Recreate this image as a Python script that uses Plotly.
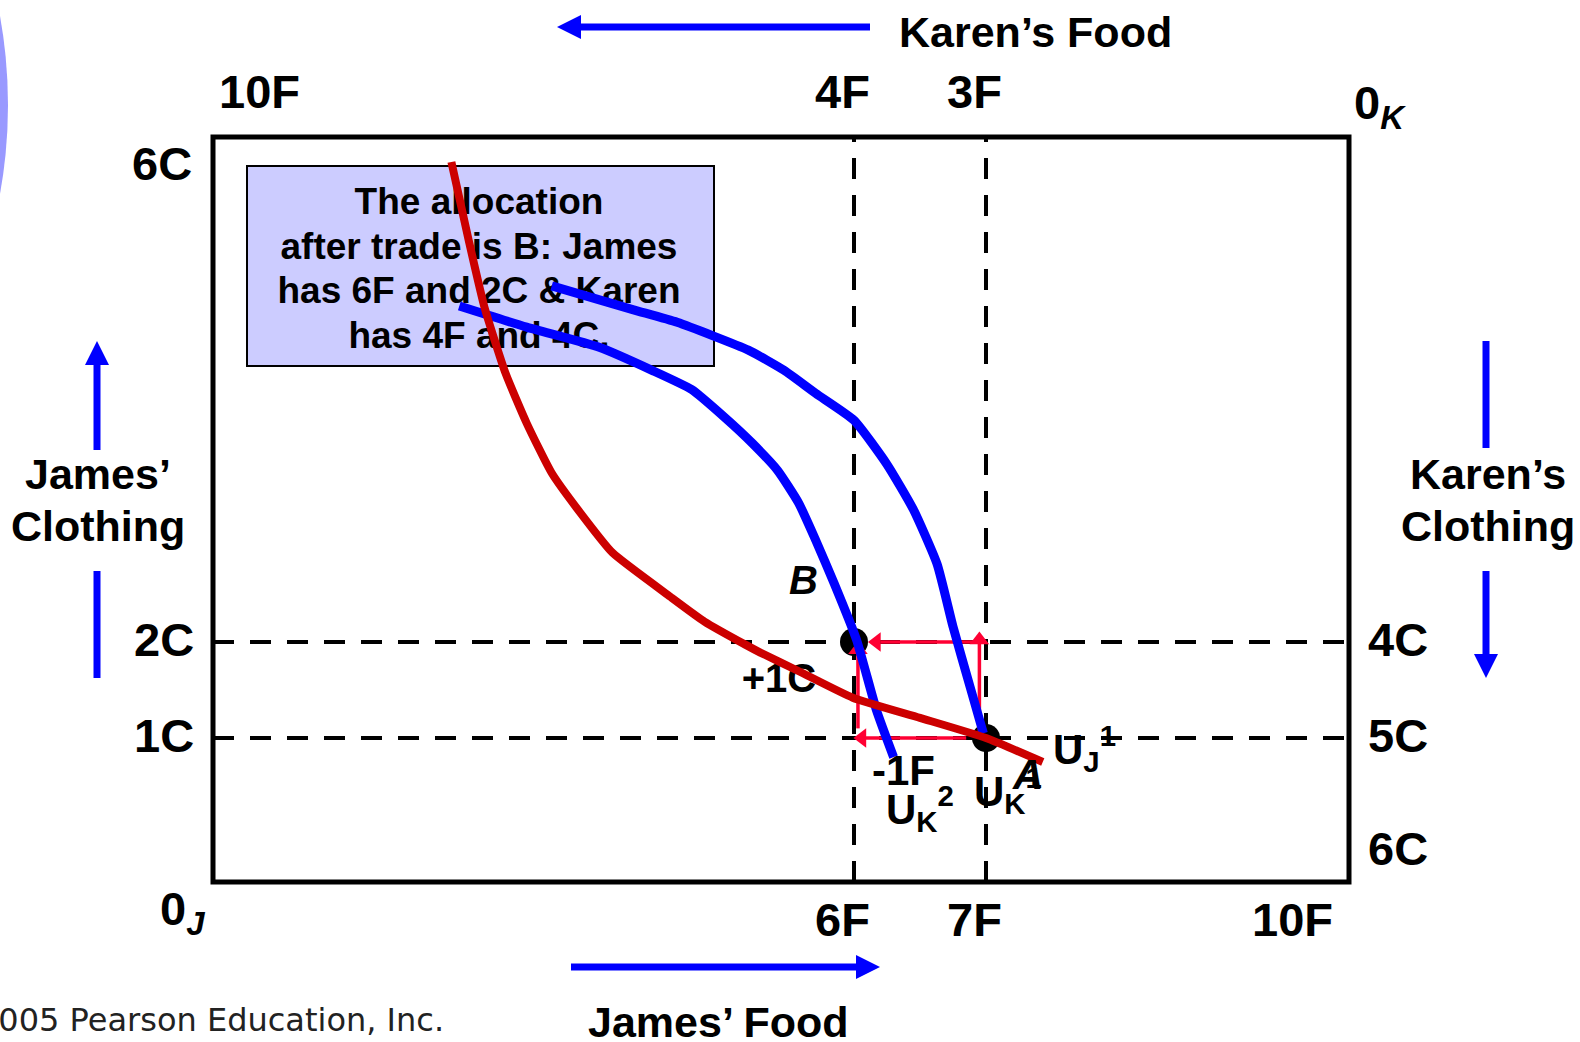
import plotly.graph_objects as go

W, H = 1580, 1042
PL, PR, PT, PB = 213, 1349, 137, 882   # plot box (pixels)

# ---------------- data (James' food on x, James' clothing on y) ----------------
food_ticks_james = [6, 7]
food_labels_james = ["6F", "7F"]
food_labels_karen = ["4F", "3F"]
cloth_ticks_james = [2, 1]
cloth_labels_james = ["2C", "1C"]
cloth_labels_karen = ["4C", "5C"]

point_A = (7, 1)
point_B = (6, 2)

# James' indifference curve U_J^1 (red)
uj1_x = [2.95, 3.08, 3.20, 3.36, 3.52, 3.71, 3.93, 4.17, 4.61, 4.87, 5.18, 5.29, 5.59, 5.99, 6.50, 7.00, 7.43]
uj1_y = [7.00, 6.19, 5.49, 4.80, 4.28, 3.76, 3.34, 2.93, 2.47, 2.21, 1.97, 1.89, 1.69, 1.42, 1.21, 1.00, 0.75]

# Karen's indifference curve U_K^2 (inner blue)
uk2_x = [3.01, 3.52, 4.07, 4.47, 4.77, 5.02, 5.23, 5.42, 5.58, 5.71, 5.85, 6.02, 6.17, 6.30]
uk2_y = [5.50, 5.28, 5.07, 4.83, 4.63, 4.34, 4.07, 3.79, 3.45, 3.06, 2.61, 2.02, 1.29, 0.80]

# Karen's indifference curve U_K^1 (outer blue)
uk1_x = [3.71, 4.33, 4.66, 5.20, 5.47, 5.71, 6.00, 6.25, 6.45, 6.63, 6.75, 6.88, 6.98]
uk1_y = [5.71, 5.46, 5.33, 5.04, 4.83, 4.59, 4.31, 3.85, 3.38, 2.81, 2.16, 1.53, 1.05]

box_lines = ["The allocation", "after trade is B: James", "has 6F and 2C & Karen", "has 4F and 4C."]

# ---------------- coordinate helpers ----------------
def xu(px):  # pixel -> data x
    return 6 + (px - 854) / 132.0

def yu(py):  # pixel -> data y
    return 2 - (py - 642) / 96.0

def xp(px):  # pixel -> paper x
    return (px - PL) / (PR - PL)

def yp(py):  # pixel -> paper y
    return (PB - py) / (PB - PT)

FONT = "Liberation Sans, Arial, sans-serif"
BLUE = "#0000FF"
RED_CURVE = "#CC0000"
RED_ARROW = "#FF0033"

fig = go.Figure()

# points A and B
fig.add_trace(go.Scatter(x=[point_B[0], point_A[0]], y=[point_B[1], point_A[1]], mode="markers",
                         marker=dict(size=28, color="black"), hoverinfo="skip"))

# red trade arrows
def red_arrow(xs, ys, head_xy, symbol):
    fig.add_trace(go.Scatter(x=xs, y=ys, mode="lines", line=dict(color=RED_ARROW, width=3.5), hoverinfo="skip"))
    fig.add_trace(go.Scatter(x=[head_xy[0]], y=[head_xy[1]], mode="markers",
                             marker=dict(symbol=symbol, size=17, color=RED_ARROW), hoverinfo="skip"))

Ax, Ay = point_A
Bx, By = point_B
red_arrow([Ax - 0.15, Bx + 0.08], [Ay, Ay], (Bx + 0.06, Ay), "triangle-left")
red_arrow([Bx + 0.03, Bx + 0.03], [Ay + 0.1, By - 0.1], (Bx + 0.03, By - 0.08), "triangle-up")
red_arrow([Ax - 0.05, Ax - 0.05], [Ay + 0.05, By - 0.02], (Ax - 0.05, By + 0.02), "triangle-up")
red_arrow([Ax - 0.05, Bx + 0.2], [By, By], (Bx + 0.17, By), "triangle-left")

# text inside lavender box (drawn under curves)
box_cx = xu(479)
box_ys = [yu(205), yu(250), yu(294), yu(339)]
fig.add_trace(go.Scatter(x=[box_cx] * 4, y=box_ys, mode="text",
                         text=["<b>%s</b>" % s for s in box_lines], textposition="middle center",
                         textfont=dict(family=FONT, size=37, color="black"), hoverinfo="skip"))

# "+1C" label under red curve
fig.add_trace(go.Scatter(x=[xu(779)], y=[yu(682)], mode="text", text=["<b>+1C</b>"],
                         textposition="middle center",
                         textfont=dict(family=FONT, size=40, color="black"), hoverinfo="skip"))

# curves
fig.add_trace(go.Scatter(x=uk2_x, y=uk2_y, mode="lines",
                         line=dict(color=BLUE, width=9, shape="spline", smoothing=0.5), hoverinfo="skip"))
fig.add_trace(go.Scatter(x=uk1_x, y=uk1_y, mode="lines",
                         line=dict(color=BLUE, width=9, shape="spline", smoothing=0.5), hoverinfo="skip"))
fig.add_trace(go.Scatter(x=uj1_x, y=uj1_y, mode="lines",
                         line=dict(color=RED_CURVE, width=8, shape="spline", smoothing=0.5), hoverinfo="skip"))

shapes = []
# dashed guide lines
for xv in food_ticks_james:
    shapes.append(dict(type="line", xref="x", yref="paper", x0=xv, x1=xv, y0=0, y1=1,
                       line=dict(color="black", width=4, dash="21px,16px"), layer="below"))
for yv in cloth_ticks_james:
    shapes.append(dict(type="line", xref="paper", yref="y", x0=0, x1=1, y0=yv, y1=yv,
                       line=dict(color="black", width=4, dash="21px,16px"), layer="below"))
# lavender text box
shapes.append(dict(type="rect", xref="paper", yref="paper", x0=xp(247), x1=xp(714), y0=yp(366), y1=yp(166),
                   fillcolor="#CCCCFF", line=dict(color="black", width=2), layer="below"))
# outer box
shapes.append(dict(type="rect", xref="paper", yref="paper", x0=0, x1=1, y0=0, y1=1,
                   line=dict(color="black", width=5), layer="above"))
# decorative circle at the left edge
shapes.append(dict(type="circle", xref="paper", yref="paper", x0=xp(-992), x1=xp(8), y0=yp(605), y1=yp(-395),
                   fillcolor="#9999FF", line=dict(width=0), layer="above"))

# blue direction arrows (line + triangle head)
def blue_line(x0, y0, x1, y1):
    shapes.append(dict(type="line", xref="paper", yref="paper", x0=xp(x0), y0=yp(y0), x1=xp(x1), y1=yp(y1),
                       line=dict(color=BLUE, width=7), layer="above"))

def blue_head(pts):
    path = "M " + " L ".join("%f %f" % (xp(a), yp(b)) for a, b in pts) + " Z"
    shapes.append(dict(type="path", xref="paper", yref="paper", path=path,
                       fillcolor=BLUE, line=dict(width=0), layer="above"))

# Karen's food (top, pointing left)
blue_line(578, 27, 870, 27)
blue_head([(557, 27), (581, 15), (581, 39)])
# James' food (bottom, pointing right)
blue_line(571, 967, 860, 967)
blue_head([(880, 967), (856, 955), (856, 979)])
# James' clothing (left, pointing up)
blue_line(97, 450, 97, 362)
blue_head([(97, 341), (85, 365), (109, 365)])
blue_line(97, 571, 97, 678)
# Karen's clothing (right, pointing down)
blue_line(1486, 341, 1486, 448)
blue_line(1486, 571, 1486, 658)
blue_head([(1486, 678), (1474, 654), (1498, 654)])

annotations = []

def ann(text, x, y, size=47, xanchor="center", yanchor="middle", family=FONT, bold=True, color="black"):
    t = "<b>%s</b>" % text if bold else text
    annotations.append(dict(text=t, x=xp(x), y=yp(y), xref="paper", yref="paper", showarrow=False,
                            xanchor=xanchor, yanchor=yanchor,
                            font=dict(family=family, size=size, color=color)))

# axis titles
ann("Karen’s Food", 1035, 32, size=43)
ann("James’ Food", 718, 1022, size=43)
ann("James’", 98, 474, size=43)
ann("Clothing", 98, 526, size=43)
ann("Karen’s", 1488, 474, size=43)
ann("Clothing", 1488, 526, size=43)

# tick-like labels
ann("10F", 259, 92)
for xv, lab in zip(food_ticks_james, food_labels_karen):
    annotations.append(dict(text="<b>%s</b>" % lab, x=xv, y=yp(92), xref="x", yref="paper", xshift=-12,
                            showarrow=False, xanchor="center", yanchor="middle",
                            font=dict(family=FONT, size=47, color="black")))
for xv, lab in zip(food_ticks_james, food_labels_james):
    annotations.append(dict(text="<b>%s</b>" % lab, x=xv, y=yp(919), xref="x", yref="paper", xshift=-12,
                            showarrow=False, xanchor="center", yanchor="middle",
                            font=dict(family=FONT, size=47, color="black")))
ann("10F", 1292, 919)
ann("6C", 194, 163, xanchor="right")
for yv, lab in zip(cloth_ticks_james, cloth_labels_james):
    annotations.append(dict(text="<b>%s</b>" % lab, x=xp(196), y=yv, xref="paper", yref="y", yshift=3,
                            showarrow=False, xanchor="right", yanchor="middle",
                            font=dict(family=FONT, size=47, color="black")))
for yv, lab in zip(cloth_ticks_james, cloth_labels_karen):
    annotations.append(dict(text="<b>%s</b>" % lab, x=xp(1366), y=yv, xref="paper", yref="y", yshift=3,
                            showarrow=False, xanchor="left", yanchor="middle",
                            font=dict(family=FONT, size=47, color="black")))
ann("6C", 1366, 848, xanchor="left")
ann("0<sub><i>K</i></sub>", 1352, 106, xanchor="left")
ann("0<sub><i>J</i></sub>", 158, 912, xanchor="left")

# point / curve labels
ann("<i>B</i>", 803, 580, size=40)
ann("-1F", 903, 770, size=42)
ann("U<sub>K</sub><sup>2</sup>", 884, 808, size=42, xanchor="left")
ann("U<sub>K</sub><sup>1</sup>", 972, 790, size=42, xanchor="left")
ann("<i>A</i>", 1027, 774, size=42)
ann("U<sub>J</sub><sup>1</sup>", 1051, 748, size=42, xanchor="left")

# copyright (cut at the left edge, as in the original slide)
ann("©2005 Pearson Education, Inc.", 446, 1020, size=32, xanchor="right",
    family="DejaVu Sans, Verdana, sans-serif", bold=False, color="#222222")

fig.update_layout(
    width=W, height=H,
    margin=dict(l=PL, r=W - PR, t=PT, b=H - PB, pad=0),
    paper_bgcolor="white", plot_bgcolor="white",
    showlegend=False,
    xaxis=dict(range=[xu(PL), xu(PR)], visible=False, fixedrange=True),
    yaxis=dict(range=[yu(PB), yu(PT)], visible=False, fixedrange=True),
    shapes=shapes, annotations=annotations,
)

fig.write_html("out.html", config={"displayModeBar": False},
               post_script="document.body.style.margin='0px';document.body.style.overflow='hidden';")
